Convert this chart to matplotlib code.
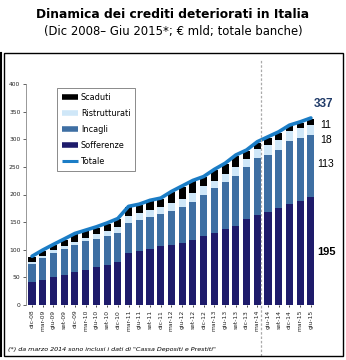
import matplotlib
matplotlib.use("Agg")
import matplotlib.pyplot as plt
from matplotlib.lines import Line2D
from matplotlib.patches import Rectangle
import numpy as np

# Quarter labels
quarters = ["dic-08", "mar-09", "giu-09", "set-09", "dic-09", "mar-10", "giu-10",
            "set-10", "dic-10", "mar-11", "giu-11", "set-11", "dic-11", "mar-12",
            "giu-12", "set-12", "dic-12", "mar-13", "giu-13", "set-13", "dic-13",
            "mar-14", "giu-14", "set-14", "dic-14", "mar-15", "giu-15"]

# Values in € billions
sofferenze = [41.7, 46, 50, 54.5, 59, 64, 68, 73, 78, 94, 98, 101, 107, 109,
              113, 118, 124, 130, 137, 143, 155, 163, 169, 176, 183, 188, 195]
incagli = [32, 38.5, 44.7, 46.5, 49.6, 51, 52, 52, 53, 55, 56, 58, 58, 61,
           65, 69, 75, 81, 86, 91, 94, 102.5, 103, 105, 113, 115, 113]
ristrutturati = [4, 4, 4.5, 5, 6, 7, 8, 9, 10, 12, 12, 13, 12, 14,
                 14, 15, 16, 14, 15, 16, 15, 17, 17, 18, 19, 17, 18]
scaduti = [9, 9.5, 9, 12, 13.4, 12, 12, 13, 14, 16, 15, 16, 15, 20,
           22, 22, 16, 19, 17, 20, 15, 11.5, 14, 13, 9, 10, 11]

c_soff = "#1e1b6b"
c_inc = "#3e6fa3"
c_ris = "#cfe7f8"
c_sca = "#000000"
c_tot = "#1b7dc6"


def main():
    fig = plt.figure(figsize=(3.46, 3.60), dpi=100)

    # Titles
    fig.text(0.5, 1 - 14 / 360, "Dinamica dei crediti deteriorati in Italia",
             ha="center", va="center", fontsize=8.8, fontweight="bold")
    fig.text(0.5, 1 - 32 / 360, "(Dic 2008\u2013 Giu 2015*; \u20ac mld; totale banche)",
             ha="center", va="center", fontsize=8.4)

    # Frame around the chart
    fig.patches.append(Rectangle((4 / 346, 1 - 356 / 360), 339 / 346, 303 / 360,
                                 transform=fig.transFigure, fill=False,
                                 edgecolor="black", linewidth=1.0))
    fig.lines.append(Line2D([1.5 / 346, 1.5 / 346], [1 - 356 / 360, 1 - 53 / 360],
                            transform=fig.transFigure, color="black", linewidth=1.5))

    ax = fig.add_axes([26 / 346, 1 - 305 / 360, 301 / 346, 221 / 360])

    x = np.arange(len(quarters))
    s = np.array(sofferenze)
    i = np.array(incagli)
    r = np.array(ristrutturati)
    c = np.array(scaduti)
    totale = s + i + r + c

    w = 0.66
    ax.bar(x, s, width=w, color=c_soff)
    ax.bar(x, i, width=w, bottom=s, color=c_inc)
    ax.bar(x, r, width=w, bottom=s + i, color=c_ris)
    ax.bar(x, c, width=w, bottom=s + i + r, color=c_sca)
    ax.plot(x, totale + 1.5, color=c_tot, linewidth=2.6, solid_capstyle="round")

    ax.set_xlim(-0.56, 27.5)
    ax.set_ylim(0, 400)
    ax.set_yticks(range(0, 401, 50))
    ax.set_xticks(x)
    ax.set_xticklabels(quarters, rotation=90, fontsize=4.3, color="#222222")
    ax.tick_params(axis="y", labelsize=4.3, length=2, width=0.5, colors="#222222", pad=2)
    ax.tick_params(axis="x", length=1.5, width=0.5, pad=2)
    for side in ["top", "right", "bottom"]:
        ax.spines[side].set_visible(False)
    ax.spines["left"].set_color("#888888")
    ax.spines["left"].set_linewidth(0.6)
    ax.axhline(0, color="#888888", linewidth=0.6)

    # Dashed line: CDP included from March 2014
    ax.axvline(21.35, ymin=-0.23, ymax=1.11, color="#aaaaaa", linestyle=(0, (2, 1.5)),
               linewidth=0.9, clip_on=False)

    # End labels
    ax.text(27.2, 364, "337", fontsize=8.5, fontweight="bold", color="#1f3a68",
            ha="center", va="center", family="Liberation Sans")
    ax.text(27.4, 326, "11", fontsize=7.5, ha="center", va="center", family="Liberation Sans")
    ax.text(27.4, 299, "18", fontsize=7.5, ha="center", va="center", family="Liberation Sans")
    ax.text(27.4, 255, "113", fontsize=7.5, ha="center", va="center", family="Liberation Sans")
    ax.text(27.5, 96, "195", fontsize=8, fontweight="bold", ha="center", va="center",
            family="Liberation Sans")

    # Legend
    handles = [Line2D([0], [0], color=c_sca, linewidth=4, solid_capstyle="butt"),
               Line2D([0], [0], color=c_ris, linewidth=4, solid_capstyle="butt"),
               Line2D([0], [0], color=c_inc, linewidth=4, solid_capstyle="butt"),
               Line2D([0], [0], color=c_soff, linewidth=4, solid_capstyle="butt"),
               Line2D([0], [0], color=c_tot, linewidth=2.2, solid_capstyle="butt")]
    labels = ["Scaduti", "Ristrutturati", "Incagli", "Sofferenze", "Totale"]
    leg = fig.legend(handles, labels, loc="upper left",
                     bbox_to_anchor=(53 / 346, 1 - 84 / 360), fontsize=5.9,
                     frameon=True, fancybox=False, edgecolor="#555555",
                     handlelength=2.0, handletextpad=0.3, labelspacing=0.85,
                     borderpad=0.6)
    leg.get_frame().set_linewidth(0.6)

    # Footnote
    fig.text(8 / 346, 1 - 349 / 360,
             "(*) da marzo 2014 sono inclusi i dati di \"Cassa Depositi e Prestiti\"",
             fontsize=4.6, style="italic", va="center")

    fig.savefig("out.png", dpi=100)


if __name__ == "__main__":
    main()
